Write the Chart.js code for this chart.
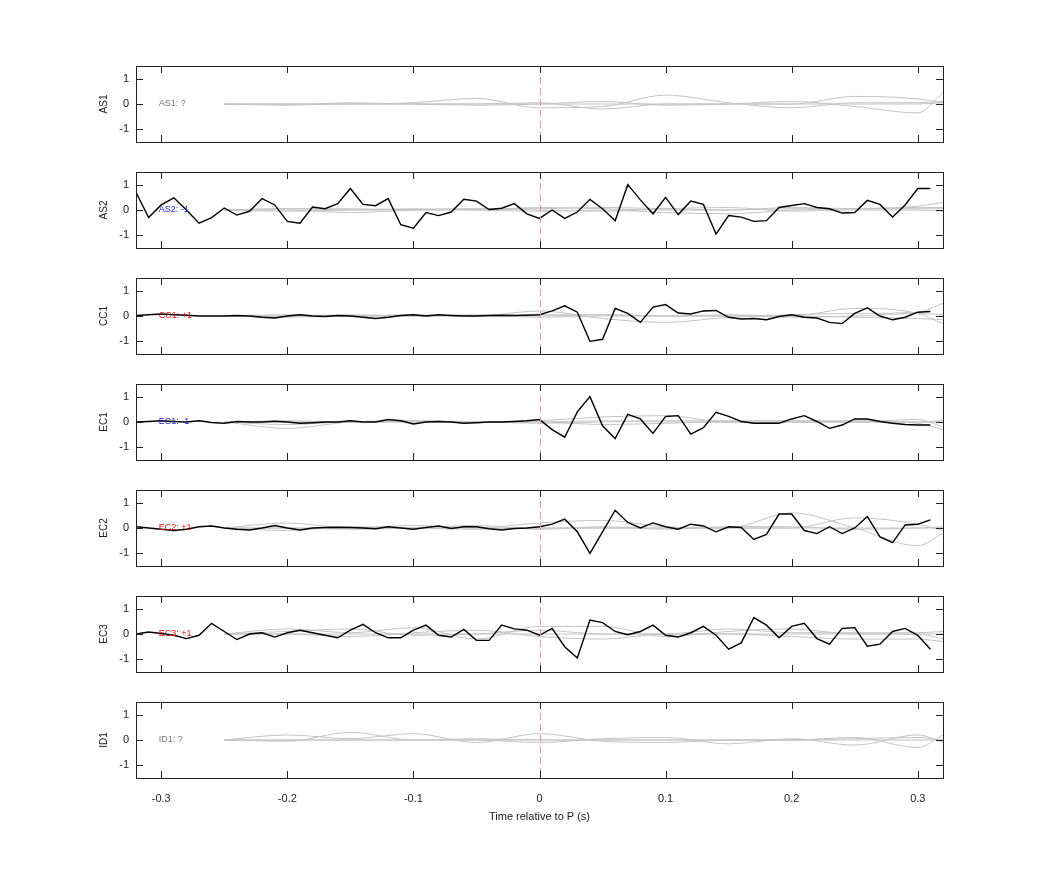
<!DOCTYPE html>
<html><head><meta charset="utf-8">
<script src="https://cdn.jsdelivr.net/npm/chart.js@4"></script>
<style>
body{margin:0;background:#fff;width:1042px;height:875px;position:relative;overflow:hidden;font-family:"Liberation Sans",Arial,sans-serif}
.p{position:absolute;left:0;width:1042px}
</style></head><body>
<script>
// time axis
const blackTimes = [];
for (let i = -32; i <= 31; i++) blackTimes.push(i / 100);
const greyTimes = [-0.25,-0.2,-0.15,-0.1,-0.05,0,0.05,0.1,0.15,0.2,0.25,0.3,0.32];
const xTicks = [-0.3,-0.2,-0.1,0,0.1,0.2,0.3];
const xTickLabels = ['-0.3','-0.2','-0.1','0','0.1','0.2','0.3'];
const yTicks = [-1,0,1];
const yTickLabels = ['-1','0','1'];

const panelNames = ['AS1','AS2','CC1','EC1','EC2','EC3','ID1'];
const panelTags = ['AS1: ?','AS2: -1','CC1: +1','EC1: -1','EC2: +1','EC3: +1','ID1: ?'];
const tagColors = ['#777','#1a1adb','#e01010','#1a1adb','#e01010','#e01010','#777'];

// black traces (null = no trace)
const as2Black = [0.7,-0.3,0.2,0.48,0.0,-0.52,-0.3,0.08,-0.2,-0.05,0.45,0.2,-0.45,-0.52,0.12,0.05,0.25,0.85,0.22,0.17,0.45,-0.58,-0.72,-0.1,-0.22,-0.08,0.42,0.35,0.02,0.07,0.25,-0.15,
  -0.33,0.0,-0.33,-0.08,0.42,0.05,-0.42,1.0,0.4,-0.15,0.5,-0.18,0.35,0.22,-0.95,-0.22,-0.28,-0.45,-0.42,0.1,0.18,0.25,0.1,0.05,-0.12,-0.1,0.38,0.22,-0.28,0.2,0.85,0.85];
const cc1Black = [0.02,0.05,0.08,0.05,0.03,0.0,0.0,0.0,0.02,0.0,-0.05,-0.08,0.0,0.05,0.0,-0.02,0.02,0.0,-0.05,-0.1,-0.05,0.02,0.05,0.0,0.05,0.02,0.0,0.0,0.02,0.03,0.02,0.03,
  0.05,0.2,0.4,0.15,-1.0,-0.92,0.3,0.1,-0.25,0.35,0.45,0.12,0.08,0.2,0.22,-0.05,-0.12,-0.1,-0.15,-0.02,0.05,-0.05,-0.08,-0.25,-0.3,0.1,0.32,0.0,-0.15,-0.05,0.15,0.18];
const ec1Black = [0.0,0.02,0.05,0.02,0.0,0.05,-0.02,-0.05,0.02,0.0,0.0,0.03,0.0,-0.05,-0.03,0.0,0.0,0.05,0.0,0.0,0.1,0.05,-0.08,0.0,0.02,0.0,-0.05,-0.03,0.0,0.0,0.02,0.05,
  0.1,-0.3,-0.6,0.4,1.0,-0.15,-0.65,0.3,0.12,-0.45,0.22,0.25,-0.48,-0.22,0.38,0.22,0.02,-0.05,-0.05,-0.05,0.12,0.25,0.02,-0.25,-0.12,0.12,0.12,0.02,-0.05,-0.1,-0.12,-0.12];
const ec2Black = [0.05,0.0,-0.05,-0.1,-0.05,0.05,0.08,0.0,-0.05,-0.08,0.0,0.1,0.0,-0.08,0.0,0.02,0.03,0.02,0.0,-0.03,0.05,0.0,-0.05,0.02,0.08,-0.02,0.05,0.05,-0.03,-0.08,-0.02,0.0,
  0.05,0.15,0.35,-0.15,-1.0,-0.15,0.7,0.22,0.0,0.2,0.05,-0.05,0.15,0.08,-0.15,0.05,0.02,-0.45,-0.25,0.55,0.55,-0.1,-0.22,0.05,-0.22,0.0,0.45,-0.35,-0.58,0.12,0.15,0.32];
const ec3Black = [0.0,0.08,0.02,-0.05,-0.18,-0.05,0.42,0.1,-0.22,0.0,0.05,-0.12,0.05,0.15,0.05,-0.05,-0.15,0.15,0.38,0.05,-0.15,-0.15,0.15,0.35,-0.05,-0.12,0.18,-0.25,-0.25,0.35,0.2,0.15,
  -0.05,0.22,-0.5,-0.95,0.55,0.45,0.1,-0.03,0.1,0.35,-0.05,-0.12,0.05,0.3,-0.05,-0.6,-0.35,0.65,0.35,-0.15,0.3,0.42,-0.18,-0.4,0.22,0.25,-0.48,-0.4,0.1,0.22,-0.05,-0.6];
const blackSeries = [null, as2Black, cc1Black, ec1Black, ec2Black, ec3Black, null];

// grey traces at greyTimes
const as1Grey = [
  [0,0,0,0.05,0.22,-0.15,-0.1,0.35,0.05,-0.15,0.05,0.05,0.1],
  [0,-0.05,0.05,0,0,0.05,-0.2,0,0,0,0.3,0.2,0.05],
  [0,0,0,0,-0.05,0,0.1,-0.05,0,0.1,-0.1,-0.35,0.45],
  [0,0,0,0,0,0,0,0,0,0,0,0,0.05]];
const as2Grey = [
  [0,0.05,0.05,0,0.05,0.05,0.1,0.05,0,0.1,0.05,0.15,0.3],
  [0,-0.05,0,0.05,0,-0.05,0,-0.1,-0.15,0,0.05,0.1,0.1],
  [0,0,-0.1,0,0.05,0,-0.05,0.05,0.1,-0.05,0,0,-0.05],
  [0,0.05,0,0,0,0.1,0.05,0,0,0.05,0.05,0.05,0.05]];
const cc1Grey = [
  [0,0.05,0,0.05,0,0.2,-0.1,-0.25,-0.05,0.05,0.1,0.15,0.5],
  [0,0,0.05,0,0.05,0,0.05,0,0.05,0,0.3,0.1,-0.3],
  [0,-0.05,0,0,0,-0.05,0,0,0,-0.05,0,0.1,0.05],
  [0,0,0,0,0,0.05,0.05,0,0,0,-0.05,-0.1,-0.15]];
const ec1Grey = [
  [0,-0.25,0,0.05,0,0.05,0.2,0.25,0,0,0,0.1,-0.2],
  [0,-0.1,0,0,0,-0.05,0,0.05,0.05,0.05,0.05,-0.05,-0.3],
  [0,0.05,0,0.05,0,0,0.05,0,0,0,0,0,0],
  [0,0,0,0,0,0,-0.1,-0.05,0,0,0,0,0.05]];
const ec2Grey = [
  [0,0.2,0,0.1,0,0.2,0.3,0.05,0,0.6,0,-0.7,-0.2],
  [0,-0.1,0.05,0,-0.05,0,0,0,0,0,0.4,0.15,-0.1],
  [0,0,-0.05,0,0.1,-0.05,0.05,-0.05,0.05,0.05,-0.05,0,0.05],
  [0,0,0,0,0,0,0,0,0,0,0,0,0]];
const ec3Grey = [
  [0,0.2,0.05,0.25,-0.2,0.3,0.3,-0.1,0.1,0.2,0,0,-0.2],
  [0,0,-0.1,0.05,0.15,-0.1,-0.2,0,0,-0.1,-0.2,-0.2,-0.3],
  [0,0.1,0.2,-0.05,0,0.15,0,0,0.2,0.05,0.05,0.05,0.1],
  [0,0,0,0,0,0,0,0,0,0,0,0,0]];
const id1Grey = [
  [0,0.2,0.05,0.25,-0.1,0.25,-0.05,-0.1,0,0,0.1,-0.3,0.2],
  [0,-0.05,0.3,0,0,-0.1,0.05,0.1,-0.15,0.05,-0.2,0.2,-0.1],
  [0,0,0,0,0.05,0,0,0,0,0,0.05,0.1,0],
  [0,0,0,0,0,0,0,0,0,0,0,0,0]];
const greySeries = [as1Grey, as2Grey, cc1Grey, ec1Grey, ec2Grey, ec3Grey, id1Grey];

const panelTops = [66,172,278,384,490,596,702];
const AREA_H = 76, PAD = 4, LEFT = 136, RIGHT_PAD = 99;

const framePlugin = {
  id: 'frame',
  afterDatasetsDraw(chart, args, opts) {
    const {ctx, chartArea: a, scales: {x, y}} = chart;
    ctx.save();
    // zero dashed line
    ctx.strokeStyle = '#e09a9a'; ctx.lineWidth = 1; ctx.setLineDash([7,4]);
    const zx = Math.round(x.getPixelForValue(0)) + 0.5;
    ctx.beginPath(); ctx.moveTo(zx, a.top); ctx.lineTo(zx, a.bottom); ctx.stroke();
    ctx.setLineDash([]);
    // frame + inner ticks
    ctx.strokeStyle = '#222'; ctx.lineWidth = 1;
    ctx.strokeRect(a.left + 0.5, a.top + 0.5, a.right - a.left, a.bottom - a.top);
    ctx.beginPath();
    xTicks.forEach(v => {
      const px = Math.round(x.getPixelForValue(v)) + 0.5;
      ctx.moveTo(px, a.top); ctx.lineTo(px, a.top + 7);
      ctx.moveTo(px, a.bottom); ctx.lineTo(px, a.bottom - 7);
    });
    yTicks.forEach(v => {
      const py = Math.round(y.getPixelForValue(v)) + 0.5;
      ctx.moveTo(a.left, py); ctx.lineTo(a.left + 7, py);
      ctx.moveTo(a.right, py); ctx.lineTo(a.right - 7, py);
    });
    ctx.stroke();
    // y tick labels
    ctx.fillStyle = '#222'; ctx.font = '11px "Liberation Sans", Arial';
    ctx.textAlign = 'right'; ctx.textBaseline = 'middle';
    yTicks.forEach((v, k) => ctx.fillText(yTickLabels[k], a.left - 7, y.getPixelForValue(v)));
    // y title
    ctx.save();
    ctx.translate(a.left - 32, (a.top + a.bottom) / 2);
    ctx.rotate(-Math.PI / 2);
    ctx.textAlign = 'center'; ctx.font = '10px "Liberation Sans", Arial';
    ctx.fillText(opts.name, 0, 0);
    ctx.restore();
    // tag
    ctx.fillStyle = opts.color; ctx.font = '9px "Liberation Sans", Arial';
    ctx.textAlign = 'left';
    ctx.fillText(opts.text, x.getPixelForValue(-0.302), y.getPixelForValue(0));
    ctx.restore();
  }
};

panelNames.forEach((name, i) => {
  const last = i === panelNames.length - 1;
  const xAxisH = last ? 50 : 0;
  const h = AREA_H + 2 * PAD + xAxisH;
  const c = document.createElement('canvas');
  c.className = 'p';
  c.style.top = (panelTops[i] - PAD) + 'px';
  c.style.height = h + 'px';
  c.width = 1042; c.height = h;
  document.body.appendChild(c);

  const datasets = [];
  if (blackSeries[i]) {
    datasets.push({
      data: blackTimes.map((t, k) => ({x: t, y: blackSeries[i][k]})),
      borderColor: '#000', borderWidth: 1.4, pointRadius: 0, tension: 0
    });
  }
  greySeries[i].forEach(g => datasets.push({
    data: greyTimes.map((t, k) => ({x: t, y: g[k]})),
    borderColor: '#c4c4c4', borderWidth: 1, pointRadius: 0, tension: 0.4, cubicInterpolationMode: 'monotone'
  }));

  new Chart(c, {
    type: 'line',
    data: {datasets},
    plugins: [framePlugin],
    options: {
      responsive: false, animation: false,
      layout: {padding: {top: PAD, bottom: PAD, right: RIGHT_PAD, left: 0}},
      plugins: {legend: {display: false}, tooltip: {enabled: false},
        frame: {text: panelTags[i], color: tagColors[i], name}},
      scales: {
        x: {
          type: 'linear', min: -0.32, max: 0.32,
          grid: {display: false}, border: {display: false},
          afterBuildTicks: ax => { ax.ticks = xTicks.map(v => ({value: v})); },
          ticks: {display: last, color: '#222', font: {size: 11}, maxRotation: 0, padding: 6,
            callback: (v) => xTickLabels[xTicks.findIndex(t => Math.abs(t - v) < 1e-9)]},
          title: {display: last, text: 'Time relative to P (s)', color: '#222', font: {size: 11}, padding: {top: 8}},
          afterFit: ax => { ax.height = xAxisH; }
        },
        y: {
          min: -1.5, max: 1.5,
          grid: {display: false}, border: {display: false},
          ticks: {display: false},
          afterFit: ax => { ax.width = LEFT; }
        }
      }
    }
  });
});
</script>
</body></html>
